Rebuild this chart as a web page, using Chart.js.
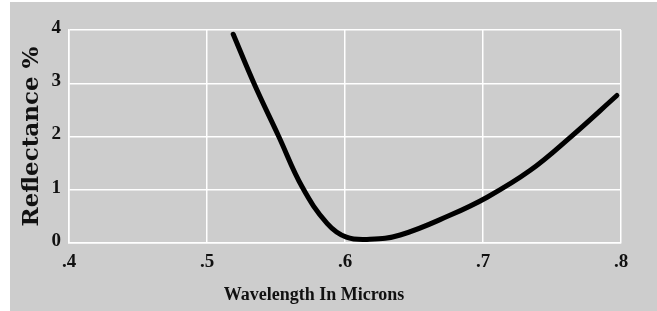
<!DOCTYPE html>
<html>
<head>
<meta charset="utf-8">
<script src="https://cdn.jsdelivr.net/npm/chart.js@4"></script>
<style>
  body { margin: 0; background: #fff; }
  #wrap { position: absolute; left: 10px; top: 2px; width: 647px; height: 309px; background: #cdcdcd; }
</style>
</head>
<body>
<div id="wrap"><canvas id="myChart" width="647" height="309"></canvas></div>
<script>
// values
var wavelength = [0.519, 0.534, 0.552, 0.569, 0.587, 0.601, 0.618, 0.640, 0.676, 0.703, 0.734, 0.763, 0.797];
var reflectance = [3.92, 3.0, 2.0, 1.05, 0.37, 0.11, 0.07, 0.15, 0.52, 0.86, 1.36, 1.98, 2.77];
var xTicks = ['.4', '.5', '.6', '.7', '.8'];
var yTicks = ['0', '1', '2', '3', '4'];

var points = wavelength.map(function(w, i) { return {x: w, y: reflectance[i]}; });

// x title sits left of centre in the original, so draw it by hand
var xTitle = {
  id: 'xTitle',
  afterDraw: function(chart) {
    var c = chart.ctx;
    c.save();
    c.font = 'bold 18px "Liberation Serif"';
    c.fillStyle = '#111';
    c.textAlign = 'center';
    c.textBaseline = 'alphabetic';
    c.fillText('Wavelength In Microns', 304, 298);
    c.restore();
  }
};

var ctx = document.getElementById('myChart').getContext('2d');
var myChart = new Chart(ctx, {
  type: 'line',
  data: {
    datasets: [{
      data: points,
      borderColor: '#000',
      borderWidth: 5,
      borderCapStyle: 'round',
      pointRadius: 0,
      tension: 0.4,
      fill: false
    }]
  },
  plugins: [xTitle],
  options: {
    responsive: false,
    animation: false,
    layout: { padding: { top: 28, right: 36, left: 0, bottom: 0 } },
    plugins: { legend: { display: false }, tooltip: { enabled: false } },
    scales: {
      x: {
        type: 'linear',
        min: 0.4, max: 0.8,
        afterFit: function(s) { s.height = 68; },
        afterBuildTicks: function(s) {
          s.ticks = xTicks.map(function(t) { return {value: parseFloat('0' + t)}; });
        },
        grid: { color: '#fff', lineWidth: 1.5, drawTicks: false },
        border: { color: '#fff', width: 1.5 },
        ticks: {
          padding: 8,
          color: '#111',
          font: { family: 'Liberation Serif', weight: 'bold', size: 19 },
          callback: function(v, i) { return xTicks[i]; }
        }
      },
      y: {
        min: 0, max: 4,
        afterFit: function(s) { s.width = 59; },
        grid: { color: '#fff', lineWidth: 1.5, drawTicks: false },
        border: { color: '#fff', width: 1.5 },
        ticks: {
          stepSize: 1,
          padding: 8,
          labelOffset: -2,
          color: '#111',
          font: { family: 'Liberation Serif', weight: 'bold', size: 19 },
          callback: function(v, i) { return yTicks[i]; }
        },
        title: {
          display: true,
          text: 'Reflectance %',
          color: '#111',
          padding: { top: 8, bottom: 0 },
          font: { family: 'DejaVu Serif', weight: 'bold', size: 23 }
        }
      }
    }
  }
});
</script>
</body>
</html>
